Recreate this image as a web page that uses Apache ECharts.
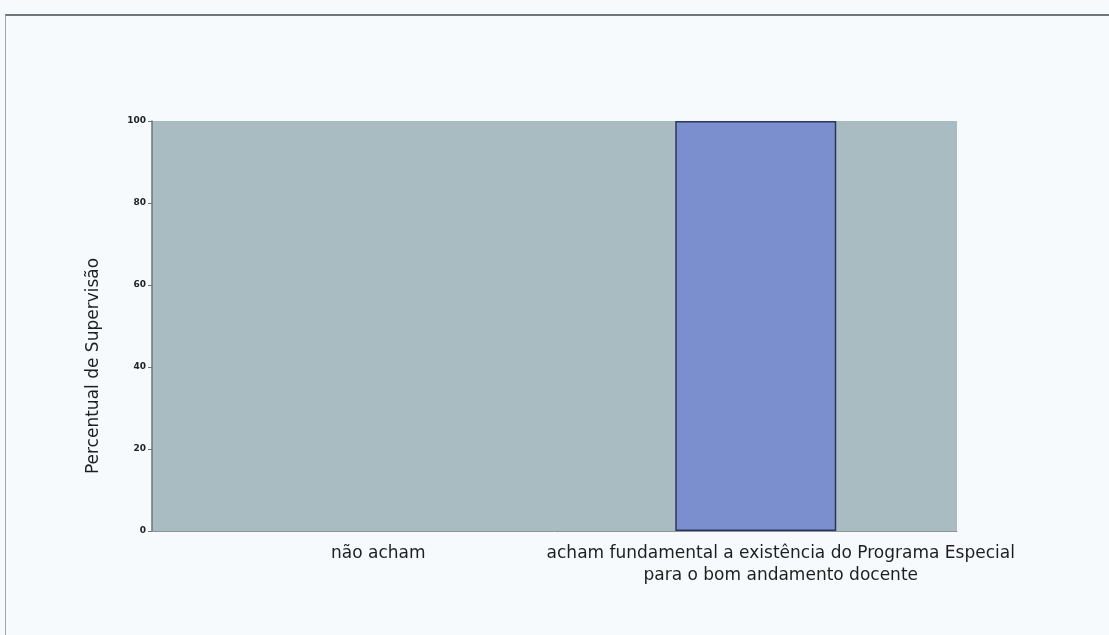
<!DOCTYPE html>
<html>
<head>
<meta charset="utf-8">
<script src="https://cdn.jsdelivr.net/npm/echarts@6/dist/echarts.min.js"></script>
<style>
  html, body { margin: 0; padding: 0; background: #f7fafc; }
  #frame { position: absolute; left: 5px; top: 14px; width: 1104px; height: 621px;
           border-top: 2px solid #70767a; border-left: 1px solid #a0a5a8; box-sizing: border-box; }
  #chart { position: absolute; left: 0; top: 0; width: 1109px; height: 635px; }
</style>
</head>
<body>
<div id="frame"></div>
<div id="chart"></div>
<script>
const categories = ["não acham", "acham fundamental a existência do Programa Especial\npara o bom andamento docente"];
const values = [0, 100];
const yTicks = [0, 20, 40, 60, 80, 100];

const chart = echarts.init(document.getElementById('chart'), null, { renderer: 'canvas' });
chart.setOption({
  backgroundColor: 'transparent',
  animation: false,
  grid: { left: 152, right: 152, top: 121, bottom: 104, show: true, backgroundColor: '#a9bcc2', borderWidth: 0 },
  xAxis: {
    type: 'category',
    data: categories,
    axisLine: { show: true, lineStyle: { color: '#8a9396', width: 1 } },
    axisTick: { show: false },
    axisLabel: { color: '#1e1e1e', fontFamily: 'DejaVu Sans', fontSize: 17, lineHeight: 22, margin: 12, interval: 0,
                 padding: [0, 0, 0, 50] }
  },
  yAxis: {
    type: 'value',
    min: yTicks[0], max: yTicks[yTicks.length - 1], interval: 20,
    name: 'Percentual de Supervisão',
    nameLocation: 'middle',
    nameGap: 50,
    nameTextStyle: { color: '#1e1e1e', fontFamily: 'DejaVu Sans', fontSize: 17, padding: [0, 80, 0, 0] },
    axisLine: { show: true, lineStyle: { color: '#6f7679', width: 1.5 } },
    axisTick: { show: true, length: 4, lineStyle: { color: '#6f7679' } },
    axisLabel: { color: '#222', fontFamily: 'DejaVu Sans', fontSize: 9, fontWeight: 'bold', margin: 6 },
    splitLine: { show: false }
  },
  series: [{
    type: 'bar',
    data: values.map(v => v === 0 ? { value: v, itemStyle: { borderWidth: 0 } } : v),
    barWidth: '40%',
    itemStyle: { color: '#7b8fcf', borderColor: '#2b375e', borderWidth: 1.5 }
  }]
});
</script>
</body>
</html>
